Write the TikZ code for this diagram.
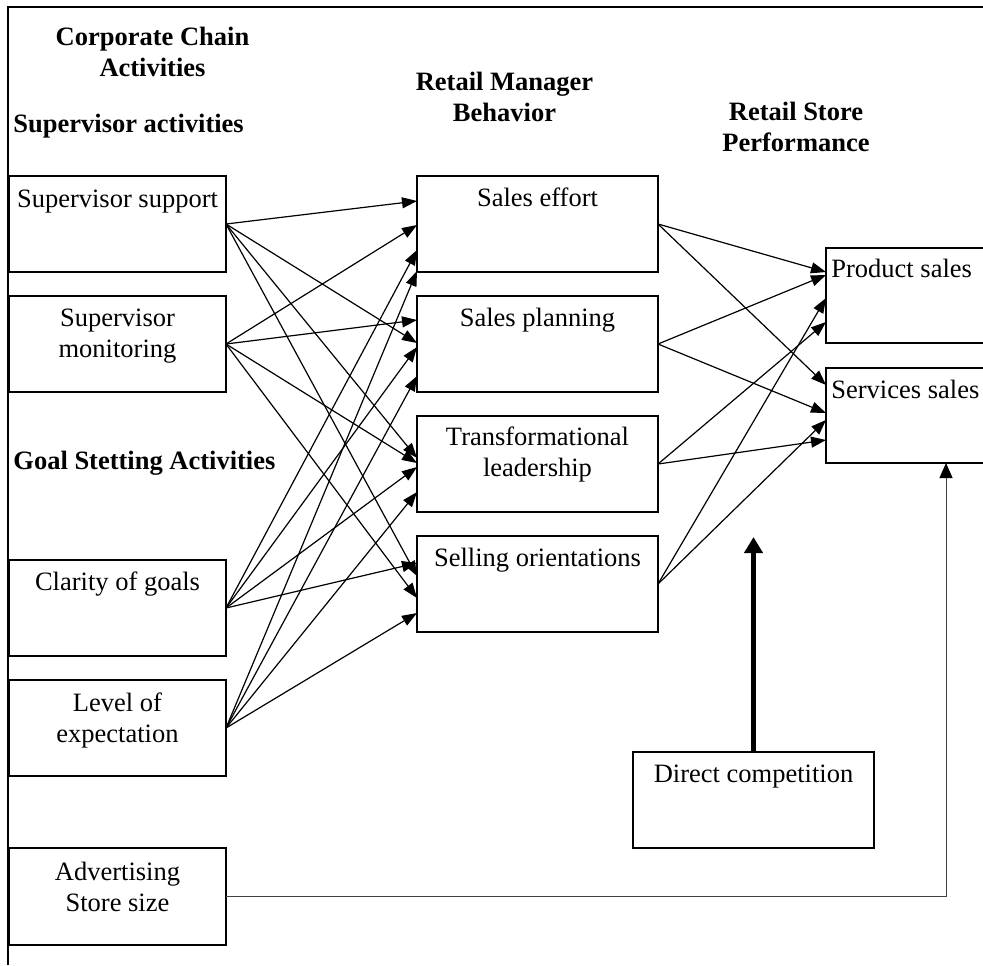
\documentclass[tikz,border=0pt]{standalone}
\usepackage{fontspec}
\setmainfont{Liberation Serif}
\usetikzlibrary{arrows.meta,calc}
\begin{document}
\begin{tikzpicture}[x=0.5pt,y=-0.5pt,
  box/.style={draw, line width=0.7pt, minimum width=108.5pt, minimum height=48pt, inner sep=0pt, outer sep=0pt},
  midbox/.style={box, minimum width=120.5pt},
  rbox/.style={box, minimum width=84.5pt, minimum height=47.5pt},
  txt/.style={font=\fontsize{13.25}{15.5}\selectfont, align=center, inner sep=0pt, anchor=base},
  head/.style={font=\fontsize{13.25}{15.5}\selectfont\bfseries, align=center, inner sep=0pt, anchor=base},
  link/.style={line width=0.6pt, -{Triangle[length=7.5pt,width=5.5pt]}},
  biglink/.style={line width=2.4pt, -{Triangle[length=8pt,width=9pt]}},
  advlink/.style={line width=0.5pt, draw=black!75, -{Triangle[length=7.5pt,width=6.5pt,fill=black,color=black]}},
  frame/.style={line width=0.6pt}
]
\useasboundingbox (0,0) rectangle (983,965);
% frame
\draw[frame] (8,965) -- (8,7) -- (983,7);

% headings (base anchor = last line baseline)
\node[head] (corp) at (152.5,76) {Corporate Chain\\Activities};
\node[head, anchor=base west] (suph) at (13,132) {Supervisor activities};
\node[head, anchor=base west] (goalh) at (13,469) {Goal Stetting Activities};
\node[head] (rmb) at (504.5,121) {Retail Manager\\Behavior};
\node[head] (rsp) at (796,151) {Retail Store\\Performance};

% left boxes
\node[box] (ss) at (117.5,224) {};
\node[box] (sm) at (117.5,344) {};
\node[box] (cl) at (117.5,608) {};
\node[box] (le) at (117.5,728) {};
\node[box, minimum height=48.5pt] (ad) at (117.5,896.5) {};
\node[txt] (ss-t) at (117.5,207) {Supervisor support};
\node[txt] (sm-t) at (117.5,357) {Supervisor\\monitoring};
\node[txt] (cl-t) at (117.5,590) {Clarity of goals};
\node[txt] (le-t) at (117.5,742) {Level of\\expectation};
\node[txt] (ad-t) at (117.5,911) {Advertising\\Store size};

% middle boxes
\node[midbox] (se) at (537.5,224) {};
\node[midbox] (sp) at (537.5,344) {};
\node[midbox] (tl) at (537.5,464) {};
\node[midbox] (so) at (537.5,584) {};
\node[txt] (se-t) at (537.5,206) {Sales effort};
\node[txt] (sp-t) at (537.5,326) {Sales planning};
\node[txt] (tl-t) at (537.5,476) {Transformational\\leadership};
\node[txt] (so-t) at (537.5,566) {Selling orientations};

% right boxes
\node[rbox] (ps) at (910.5,295.5) {};
\node[rbox] (sv) at (910.5,415.5) {};
\node[txt, anchor=base west] (ps-t) at (831,277) {Product sales};
\node[txt, anchor=base west] (sv-t) at (831,398) {Services sales};

% direct competition
\node[midbox] (dc) at (753.5,800) {};
\node[txt] (dc-t) at (753.5,782) {Direct competition};

% left -> middle
\draw[link] (ss.east) -- ([yshift=11.5pt]se.west);
\draw[link] (sm.east) -- ([yshift=-0.5pt]se.west);
\draw[link] (cl.east) -- ([yshift=-13pt]se.west);
\draw[link] (le.east) -- ([yshift=-23.5pt]se.west);

\draw[link] (sm.east) -- ([yshift=12pt]sp.west);
\draw[link] (ss.east) -- ([yshift=0.5pt]sp.west);
\draw[link] (cl.east) -- ([yshift=-1.5pt]sp.west);
\draw[link] (le.east) -- ([yshift=-16pt]sp.west);

\draw[link] (ss.east) -- ([yshift=3pt]tl.west);
\draw[link] (sm.east) -- ([yshift=0.5pt]tl.west);
\draw[link] (cl.east) -- ([yshift=-1.5pt]tl.west);
\draw[link] (le.east) -- ([yshift=-14pt]tl.west);

\draw[link] (cl.east) -- ([yshift=10.5pt]so.west);
\draw[link] (ss.east) -- ([yshift=4pt]so.west);
\draw[link] (sm.east) -- ([yshift=-7pt]so.west);
\draw[link] (le.east) -- ([yshift=-14.5pt]so.west);

% middle -> right
\draw[link] (se.east) -- ([yshift=11.75pt]ps.west);
\draw[link] (sp.east) -- ([yshift=10.25pt]ps.west);
\draw[link] (so.east) -- ([yshift=-1.25pt]ps.west);
\draw[link] (tl.east) -- ([yshift=-13.25pt]ps.west);

\draw[link] (se.east) -- ([yshift=15.25pt]sv.west);
\draw[link] (sp.east) -- ([yshift=1.25pt]sv.west);
\draw[link] (so.east) -- ([yshift=-2.25pt]sv.west);
\draw[link] (tl.east) -- ([yshift=-12.25pt]sv.west);

% direct competition arrow
\coordinate (dctip) at (753.5,537);
\draw[biglink] (dc.north) -- (dctip);

% advertising arrow
\coordinate (adturn) at (946,896.5);
\draw[advlink] (ad.east) -- (adturn) -- (adturn |- sv.south);
\end{tikzpicture}
\end{document}
